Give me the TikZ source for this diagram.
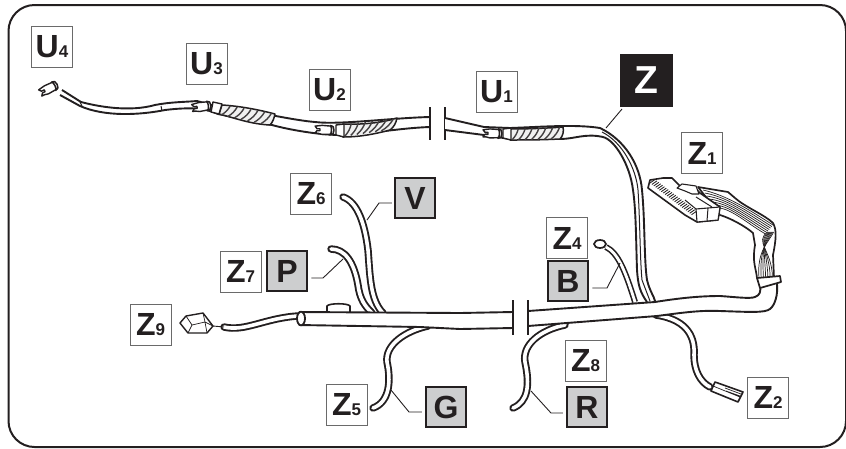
\documentclass[tikz,border=0pt]{standalone}
\usepackage{fontspec}
\setmainfont{Liberation Sans}
\usetikzlibrary{calc}
\definecolor{ink}{HTML}{231F20}
\definecolor{tag}{HTML}{CDCECF}
\definecolor{edge}{HTML}{6A6A6A}
\newcommand{\lbl}[2]{{\fontsize{32}{32}\selectfont\bfseries #1}{\fontsize{17}{17}\selectfont\bfseries #2}}
\newcommand{\biglbl}[1]{{\fontsize{32}{32}\selectfont\bfseries #1}}
\tikzset{
  x=1pt,y=-1pt,
  plainbox/.style={draw=edge,line width=1pt,fill=white,inner sep=0pt,minimum width=41pt,minimum height=41pt,text=ink},
  tagbox/.style={draw=ink,line width=2pt,fill=tag,inner sep=0pt,minimum width=40.5pt,minimum height=40.5pt,text=ink},
  blackbox/.style={fill=ink,inner sep=0pt,minimum width=53pt,minimum height=53pt,text=white},
  leader/.style={draw=ink,line width=0.9pt},
  wire/.style={draw=ink,line width=7.4pt,line cap=round,line join=round},
  wirein/.style={draw=white,line width=3.6pt,line cap=round,line join=round},
  edgeline/.style={draw=ink,line width=1.9pt,line join=round},
  part/.style={draw=ink,line width=1.4pt,fill=white,line join=round},
  strand/.style={draw=ink,line width=0.7pt},
  breakbar/.style={draw=ink,line width=1.5pt},
  sleevebody/.style={draw=ink,line width=1.5pt,fill=black!6,line join=round},
}
\newcommand{\wirepath}[1]{\draw[wire] #1; \draw[wirein] #1;}
\newcommand{\hatch}[4]{%
  \foreach \t in {0.1,0.23,...,0.95}{
    \draw[ink!85,line width=1.4pt] ($(#1)!\t!(#2)+(3,0)$) to[bend left=14] ($(#3)!\t!(#4)+(-3,0)$);
  }}
\newcommand{\plug}[3]{% x y rot
  \begin{scope}[shift={(#1,#2)},rotate=#3]
   \draw[part] (-11,-3.5) -- (-4,-4.5) -- (6,-4) -- (6,4) -- (-4,4.5) -- (-8,3.5) -- (-11,3.5) -- (-9,1) -- (-6,1) -- (-6,-1) -- (-9,-1) -- cycle;
   \draw[part,line width=1.5pt] (4,-4.8) .. controls (7,-4.8) and (8,-3) .. (8,0) .. controls (8,3) and (7,4.8) .. (4,4.8) .. controls (6,3) and (6,-3) .. (4,-4.8);
  \end{scope}}
\begin{document}
\begin{tikzpicture}
\useasboundingbox (0,0) rectangle (846,448);
\draw[ink,line width=2pt,rounded corners=26pt] (8.5,5) rectangle (846,447);

% upper cable
\fill[white] (62,90) -- (81,102) .. controls (100,107) and (130,112) .. (155,105) .. controls (170,102) and (185,102) .. (197,101) -- (215,106) .. controls (240,108) and (290,120) .. (315,122) .. controls (340,125) and (390,118) .. (430,117) -- (430,127) .. controls (400,128) and (370,134) .. (340,135) .. controls (320,135) and (290,130) .. (272,125) -- (218,114) .. controls (205,108) and (190,107) .. (165,110) .. controls (140,115) and (105,117) .. (80,106) -- (60,95) -- cycle;
\draw[edgeline] (62,90) -- (81,102) .. controls (100,107) and (130,112) .. (155,105) .. controls (170,102) and (185,102) .. (197,101) -- (215,106) .. controls (240,108) and (290,120) .. (315,122) .. controls (340,125) and (390,118) .. (430,117);
\draw[edgeline] (430,127) .. controls (400,128) and (370,134) .. (340,135) .. controls (320,135) and (290,130) .. (272,125) -- (218,114) .. controls (205,108) and (190,107) .. (165,110) .. controls (140,115) and (105,117) .. (80,106) -- (60,95);
\draw[strand,line width=1pt] (80,102) -- (82,106) (161,106) -- (162,111);
% U2 sleeve
\coordinate (s2a) at (343,124); \coordinate (s2b) at (397,118); \coordinate (s2c) at (343,137); \coordinate (s2d) at (390,130);
\draw[sleevebody] (s2a) .. controls (365,125) and (385,122) .. (s2b) .. controls (396,123) and (394,127) .. (s2d) .. controls (375,134) and (360,137) .. (s2c) -- cycle;
\hatch{s2a}{s2b}{s2c}{s2d}
% U3 sleeve
\coordinate (s3a) at (222,105); \coordinate (s3b) at (275,114); \coordinate (s3c) at (219,114); \coordinate (s3d) at (270,125);
\draw[sleevebody] (s3a) .. controls (240,106) and (260,110) .. (s3b) .. controls (274,118) and (273,122) .. (s3d) .. controls (250,124) and (235,118) .. (s3c) -- cycle;
\hatch{s3a}{s3b}{s3c}{s3d}
\plug{50}{88}{27}
\plug{203}{106.5}{8}
\plug{326}{130}{-2}
\draw[part] (213,102) -- (222,104) -- (219,114) -- (211,112) -- cycle;
\draw[part] (336,125) -- (344,124) -- (344,137) -- (336,135) -- cycle;

% break of the upper cable
\draw[breakbar] (430,107) -- (430,140) (445,107) -- (445,140);

% lead Z and U1
\fill[white] (445,118) -- (484,127) -- (510,128) .. controls (540,127) and (575,124) .. (600,128) .. controls (625,140) and (640,165) .. (642,190) .. controls (645,220) and (644,260) .. (647,280) .. controls (650,292) and (654,296) .. (655,301) -- (647,302) .. controls (640,292) and (638,285) .. (637,270) .. controls (636,240) and (636,210) .. (633,190) .. controls (630,165) and (615,140) .. (603,137) .. controls (585,133) and (575,139) .. (560,139) -- (510,139) -- (484,135) -- (445,130) -- cycle;
\draw[edgeline] (445,118) -- (484,127) -- (510,128) .. controls (540,127) and (575,124) .. (600,128) .. controls (625,140) and (640,165) .. (642,190) .. controls (645,220) and (644,260) .. (647,280) .. controls (650,292) and (654,296) .. (655,301);
\draw[edgeline] (647,302) .. controls (640,292) and (638,285) .. (637,270) .. controls (636,240) and (636,210) .. (633,190) .. controls (630,165) and (615,140) .. (603,137) .. controls (585,133) and (575,139) .. (560,139) -- (510,139) -- (484,135) -- (445,130);
\draw[strand,line width=1pt] (602,132) .. controls (622,142) and (636,168) .. (638,190) .. controls (640,220) and (640,260) .. (642,280) -- (650,301);
\coordinate (s1a) at (510,129); \coordinate (s1b) at (563,127); \coordinate (s1c) at (510,140); \coordinate (s1d) at (560,139);
\draw[sleevebody] (s1a) .. controls (530,129) and (550,128) .. (s1b) .. controls (564,131) and (563,136) .. (s1d) .. controls (540,140) and (525,140) .. (s1c) -- cycle;
\hatch{s1a}{s1b}{s1c}{s1d}
\plug{494}{133.5}{-1}
\draw[part] (503,129) -- (511,128) -- (511,140) -- (503,138) -- cycle;

% branch wires
\coordinate (z6a) at (343,197); \coordinate (z7a) at (331,249); \coordinate (z5a) at (373,408); \coordinate (z8a) at (513,408);
\wirepath{(z6a) .. controls (358,202) and (365,225) .. (368,250) .. controls (370,275) and (370,300) .. (383,313)}
\wirepath{(z7a) .. controls (345,249) and (354,262) .. (358,285) .. controls (360,300) and (365,306) .. (372,313)}
\wirepath{(428,326) .. controls (405,331) and (385,345) .. (387,362) .. controls (391,380) and (390,402) .. (z5a)}
\wirepath{(565,325) .. controls (540,330) and (522,345) .. (525,362) .. controls (530,385) and (528,402) .. (z8a)}
\wirepath{(656,315) .. controls (690,320) and (695,340) .. (694,355) .. controls (694,370) and (700,382) .. (710,387)}
% Z4 wire
\coordinate (z4a) at (600,244);
\draw[ink,line width=1.7pt,fill=white] (z4a) ellipse[x radius=6pt,y radius=4pt];
\draw[ink,line width=6pt,line cap=butt] (606,247) .. controls (618,253) and (625,270) .. (635,302);
\draw[white,line width=2.8pt,line cap=butt] (606,247) .. controls (618,253) and (625,270) .. (635,302);

% bump on the main cable
\draw[part,line width=1.6pt] (327,313) -- (327,306) .. controls (329,303) and (348,303) .. (350,306) -- (350,313);

% Z9 wire and plug
\coordinate (z9w) at (224,327);
\wirepath{(z9w) .. controls (245,332) and (265,318) .. (298,316)}
\draw[part] (180,323) -- (186,316) -- (203,313) -- (213,326) -- (207,333) -- (188,333) -- cycle;
\draw[strand] (186,316) -- (192,325) -- (188,333) (192,325) -- (205,322) -- (207,333) (205,322) -- (203,313) (205,322) -- (213,326);
\draw[ink,line width=0.9pt] (213,326) -- (224,327);

% main cable
\fill[white] (299,312) -- (513,312) -- (513,328) -- (299,325) -- cycle;
\fill[white] (528,311) -- (655,302) .. controls (680,298) and (700,296) .. (720,296) .. controls (735,297) and (750,299) .. (755,297) -- (778,285) .. controls (778,295) and (775,305) .. (770,309) .. controls (765,313) and (750,312) .. (720,311) .. controls (700,310) and (680,313) .. (657,316) -- (528,326) -- cycle;
\draw[edgeline] (299,312) -- (460,313) -- (513,312);
\draw[edgeline] (299,325) -- (420,327) -- (460,329) -- (513,328);
\draw[edgeline] (528,311) -- (655,302) .. controls (680,298) and (700,296) .. (720,296) .. controls (735,297) and (750,299) .. (755,297) .. controls (760,295) and (761,292) .. (760,285);
\draw[edgeline] (777,284) .. controls (778,295) and (775,305) .. (770,309) .. controls (765,313) and (750,312) .. (720,311) .. controls (700,310) and (680,313) .. (657,316) -- (528,326);
\draw[ink,line width=1.8pt,fill=white] (301,318.5) ellipse[x radius=4pt,y radius=6.8pt];
\draw[breakbar] (513,300) -- (513,335) (528,300) -- (528,335);

% Z2 plug
\draw[part,line width=1.6pt] (715,382) -- (743,392) -- (738,402) -- (711,391) -- cycle;
\draw[strand] (713,386) -- (740,397) (725,388) -- (741,394) (726,391) -- (740,396);

% Z1 connector bundle
\draw[part,line width=1.7pt] (698,187) -- (728,192) -- (735,198) .. controls (745,207) and (765,215) .. (773,223) .. controls (777,230) and (776,240) .. (773,255) -- (774,278) -- (757,278) .. controls (756,268) and (752,262) .. (755,245) -- (753,233) .. controls (745,226) and (730,218) .. (720,215) -- cycle;
\foreach \d in {0,2.5,...,15}{
  \draw[strand] (703+\d*0.7,190+\d*1.2) .. controls (725+\d*0.2,195+\d*0.7) and (745,207+\d) .. (773-\d*0.5,225+\d*0.6);
}
\foreach \d in {1,3.5,...,17}{
  \draw[strand] (774-\d*0.4,232) .. controls (770-\d,242) and (756+\d,250) .. (758+\d*0.9,277);
}
\draw[part,line width=1.7pt] (757,278) -- (780,276) -- (781,282) -- (760,288) -- cycle;
\draw[part,line width=1.6pt] (648,188) -- (650,180) -- (663,178) -- (672,178) -- (680,186) -- (693,186) -- (700,193) -- (720,207) -- (718,220) -- (697,222) -- (685,215) -- cycle;
\foreach \t in {0,0.045,...,1.0}{
  \draw[ink,line width=0.85pt] ($(650,183)!\t!(692,215)$) -- +(5,-3.5);
}
\draw[part,line width=1.1pt] (677,188) -- (682,184) -- (696,186) -- (699,194) -- (692,194) -- (685,191) -- cycle;
\draw[part,line width=1.1pt] (697,222) -- (696,209) -- (720,207) -- (718,220) -- cycle;
\draw[strand,line width=1pt] (708,208) -- (707,221) (685,200) -- (696,209) (696,197) -- (712,207);

% labels
\node[plainbox] (U4) at (52,46.5) {\lbl{U}{4}};
\node[plainbox] (U3) at (206.5,63.5) {\lbl{U}{3}};
\node[plainbox] (U2) at (329.5,89.5) {\lbl{U}{2}};
\node[plainbox] (U1) at (496.5,92) {\lbl{U}{1}};
\node[blackbox] (Z) at (646.5,80.5) {\fontsize{39}{39}\selectfont\bfseries Z};
\node[plainbox] (Z1) at (702,153) {\lbl{Z}{1}};
\node[plainbox] (Z4) at (567,238) {\lbl{Z}{4}};
\node[tagbox] (B) at (568,281) {\biglbl{B}};
\node[plainbox] (Z6) at (311,193.5) {\lbl{Z}{6}};
\node[tagbox] (V) at (415,198) {\biglbl{V}};
\node[plainbox] (Z7) at (240.5,271.5) {\lbl{Z}{7}};
\node[tagbox] (P) at (287,271) {\biglbl{P}};
\node[plainbox] (Z9) at (150.5,324.5) {\lbl{Z}{9}};
\node[plainbox] (Z5) at (346.5,404.5) {\lbl{Z}{5}};
\node[tagbox] (G) at (446,407) {\biglbl{G}};
\node[plainbox] (Z8) at (585.5,361) {\lbl{Z}{8}};
\node[tagbox] (R) at (587,407) {\biglbl{R}};
\node[plainbox] (Z2) at (768,397.5) {\lbl{Z}{2}};

% leaders
\coordinate (lz) at (606,128);
\draw[leader] (622,109) -- (lz);
\coordinate (lvb) at (379,203); \coordinate (lv) at (367,220);
\draw[leader] (V.west) ++(-2,5) -- (lvb) -- (lv);
\coordinate (lpb) at (323,278); \coordinate (lp) at (343,259);
\draw[leader] (P.east) ++(3,7) -- (lpb) -- (lp);
\coordinate (lgb) at (409,412); \coordinate (lg) at (391,390);
\draw[leader] (G.west) ++(-3,5) -- (lgb) -- (lg);
\coordinate (lrb) at (551,413); \coordinate (lr) at (531,391);
\draw[leader] (R.west) ++(-3,6) -- (lrb) -- (lr);
\coordinate (lbb) at (607,288); \coordinate (lb) at (620,263);
\draw[leader] (B.east) ++(3,7) -- (lbb) -- (lb);
\end{tikzpicture}
\end{document}
